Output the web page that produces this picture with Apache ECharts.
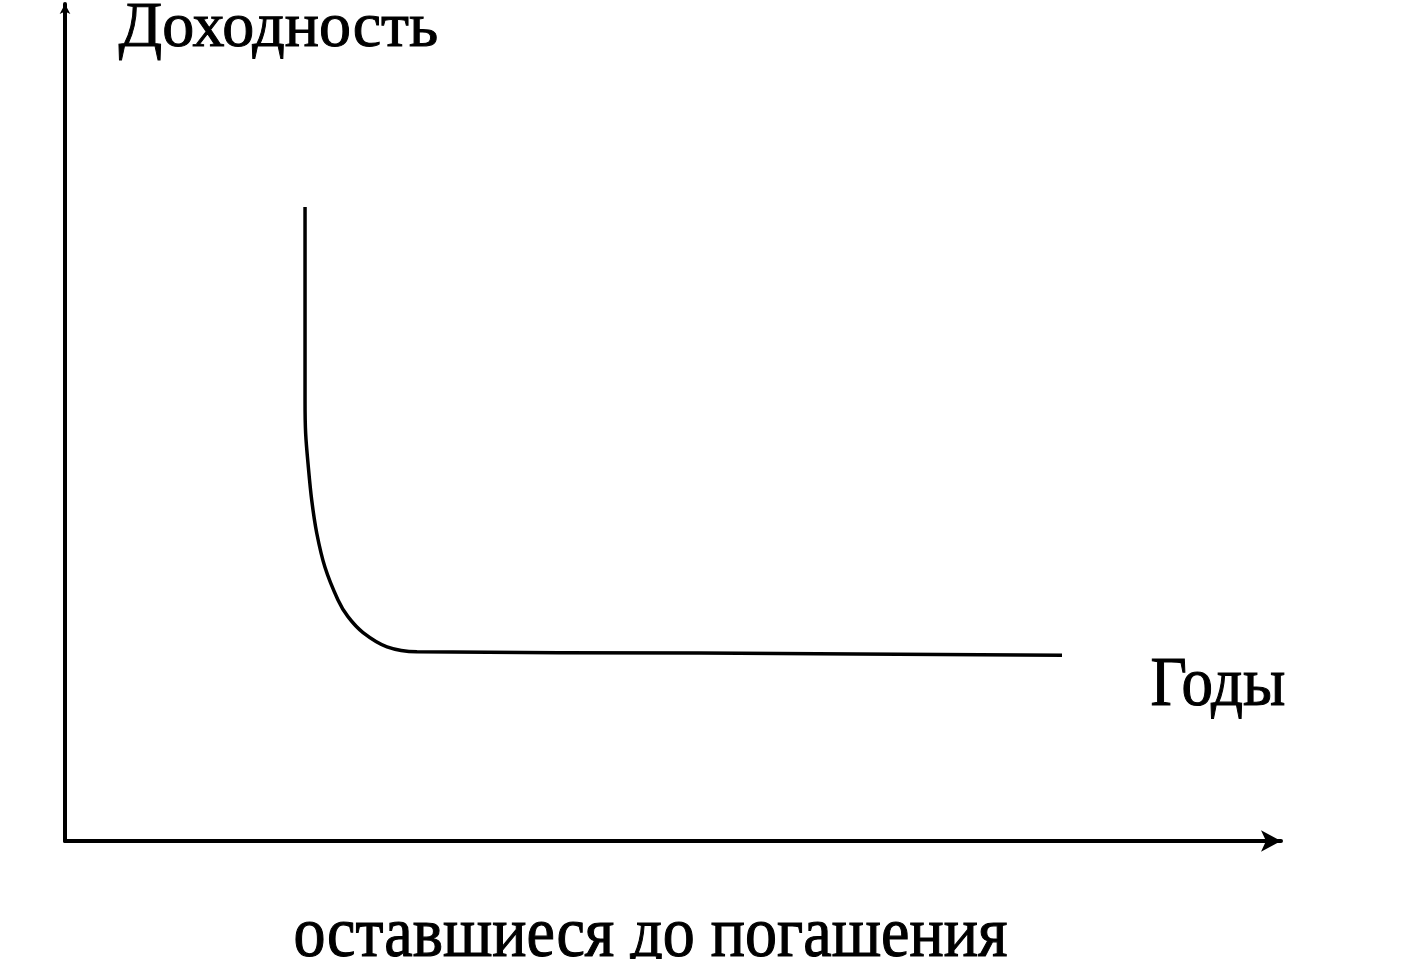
<!DOCTYPE html>
<html><head><meta charset="utf-8">
<script src="https://cdn.jsdelivr.net/npm/echarts@6/dist/echarts.min.js"></script>
<style>html,body{margin:0;padding:0;background:#fff}#c{width:1418px;height:959px}</style>
</head><body><div id="c"></div>
<script>
// Curve: yield vs years to maturity (schematic units)
const years  = [19.74, 19.74, 19.74, 19.79, 20.01, 20.29, 20.70, 21.38, 22.45, 23.27, 24.51, 26.48, 28.95, 52.2, 81.99];
const yields = [75.75, 64.6, 52.7, 48.7, 44.7, 40.7, 36.8, 32.7, 28.8, 26.8, 24.9, 23.2, 22.6, 22.46, 22.2];
const yLabel = 'Доходность';
const xLabel1 = 'Годы';
const xLabel2 = 'оставшиеся до погашения';

const chart = echarts.init(document.getElementById('c'), null, {renderer:'canvas'});
const serif = '"Liberation Serif","DejaVu Serif",serif';
chart.setOption({
  animation:false,
  backgroundColor:'#fff',
  grid:{left:65, top:4, width:1216, bottom:118},
  xAxis:{type:'value', min:0, max:100, axisLine:{show:true, lineStyle:{color:'#000', width:4}, symbol:['none','arrow'], symbolSize:[16,20]},
         axisTick:{show:false}, axisLabel:{show:false}, splitLine:{show:false}},
  yAxis:{type:'value', min:0, max:100, axisLine:{show:true, lineStyle:{color:'#000', width:4}, symbol:['none','arrow'], symbolSize:[8,10]},
         axisTick:{show:false}, axisLabel:{show:false}, splitLine:{show:false}},
  series:[{type:'line', data: years.map((x,i)=>[x, yields[i]]), smooth:0.3, showSymbol:false,
           lineStyle:{color:'#000', width:3.5}}],
  graphic:[
    {type:'text', left:118, top:-3, style:{text:yLabel, font:'64px '+serif, fill:'#000', stroke:'#000', lineWidth:1}},
    {type:'text', left:1150, top:651, scaleY:1.12, style:{text:xLabel1, font:'63px '+serif, fill:'#000', stroke:'#000', lineWidth:1}},
    {type:'text', left:293, top:900, scaleY:1.13, style:{text:xLabel2, font:'64px '+serif, fill:'#000', stroke:'#000', lineWidth:1}}
  ]
});
</script></body></html>
